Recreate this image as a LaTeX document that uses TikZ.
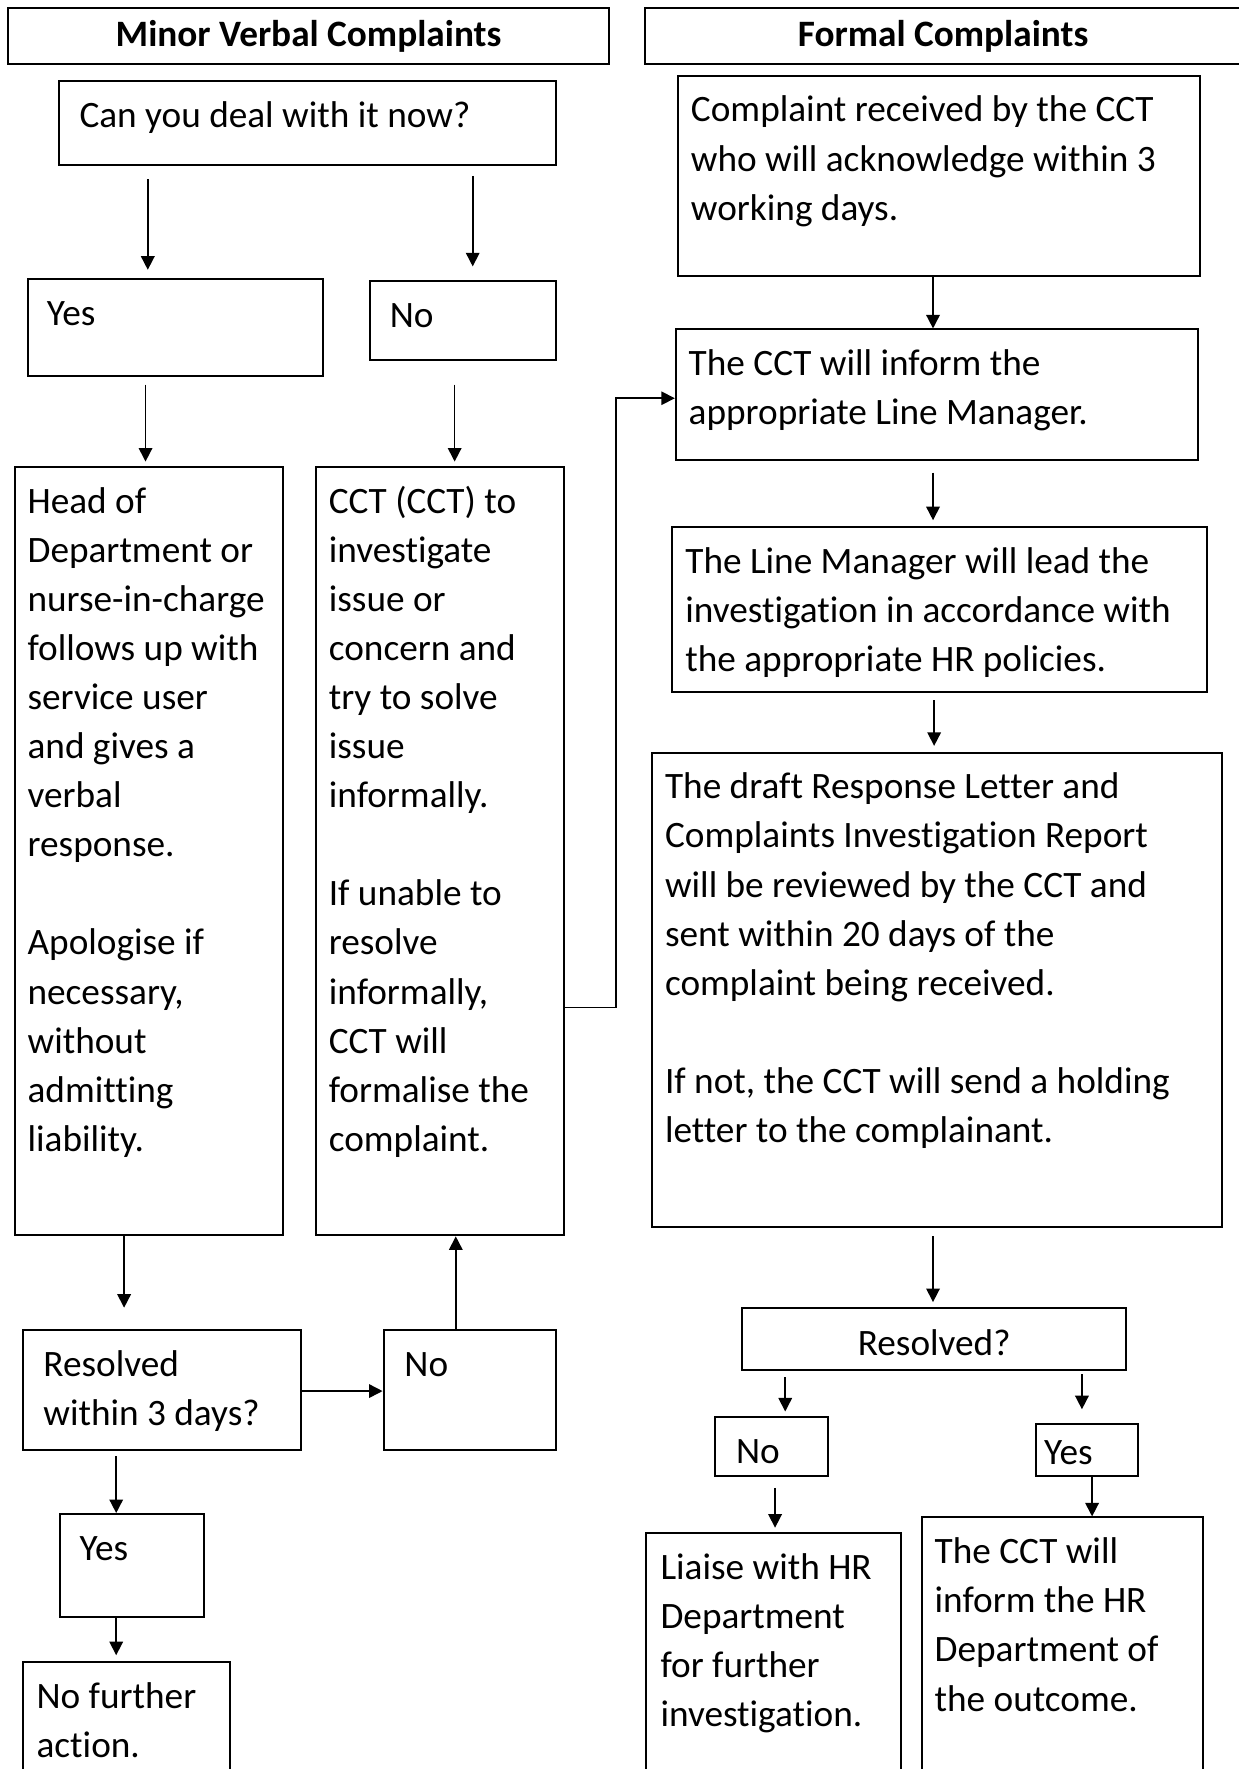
\documentclass[tikz,border=0pt]{standalone}
\usepackage{fontspec}
\setmainfont{Carlito}[Ligatures=NoCommon]
\usetikzlibrary{arrows.meta, positioning, fit}

\begin{document}
\begin{tikzpicture}[
  x=0.02cm, y=-0.02cm,
  box/.style={draw, line width=1pt, inner sep=0pt},
  txt/.style={anchor=base west, inner sep=0pt, text width=10cm, font=\fontsize{18.8}{24.75}\selectfont,
    execute at begin node={\spaceskip=0.226em\relax}},
  hdr/.style={inner sep=0pt, font=\bfseries\fontsize{18.8}{24.75}\selectfont},
  arr/.style={line width=0.8pt, -{Triangle[length=0.24cm, width=0.24cm]}}
]
\useasboundingbox (0,0) rectangle (1098,1568);

% Minor verbal complaints
\node[box, fit={(7,7) (540,57)}] (hdrA) {};
\node[hdr] (hdrAtxt) at (hdrA.center) {Minor Verbal Complaints};
\node[box, fit={(52,72) (493,146)}] (deal) {};
\node[txt] (dealtxt) at ([shift={(19,42)}]deal.north west) {Can you deal with it now?};
\node[box, fit={(25,247) (286,333)}] (yesA) {};
\node[txt] (yesAtxt) at ([shift={(17,42)}]yesA.north west) {Yes};
\node[box, fit={(328,249) (493,319)}] (noA) {};
\node[txt] (noAtxt) at ([shift={(18,42)}]noA.north west) {No};
\node[box, fit={(13,414) (251,1095)}] (head) {};
\node[txt] (headtxt) at ([shift={(12,42)}]head.north west) {Head of\\Department or\\nurse-in-charge\\follows up with\\service user\\and gives a\\verbal\\response.\\[24.75pt]Apologise if\\necessary,\\without\\admitting\\liability.};
\node[box, fit={(280,414) (500,1095)}] (cct) {};
\node[txt] (ccttxt) at ([shift={(12,42)}]cct.north west) {CCT (CCT) to\\investigate\\issue or\\concern and\\try to solve\\issue\\informally.\\[24.75pt]If unable to\\resolve\\informally,\\CCT will\\formalise the\\complaint.};
\node[box, fit={(20,1179) (267,1285)}] (res3) {};
\node[txt] (res3txt) at ([shift={(19,42)}]res3.north west) {Resolved\\within 3 days?};
\node[box, fit={(340,1179) (493,1285)}] (noB) {};
\node[txt] (noBtxt) at ([shift={(19,42)}]noB.north west) {No};
\node[box, fit={(53,1342) (181,1433)}] (yesB) {};
\node[txt] (yesBtxt) at ([shift={(18,42)}]yesB.north west) {Yes};
\node[box, fit={(20,1473) (204,1590)}] (nofurther) {};
\node[txt] (nofurthertxt) at ([shift={(13,42)}]nofurther.north west) {No further\\action.};

\draw[arr, shorten <=0.24cm, shorten >=0.14cm] (deal.south -| 131,0) -- (yesA.north -| 131,0);
\draw[arr, shorten <=0.18cm, shorten >=0.24cm] (deal.south -| 419,0) -- (noA.north -| 419,0);
\draw[arr, shorten <=0.14cm, shorten >=0.08cm] (yesA.south -| 129,0) -- (head.north -| 129,0);
\draw[arr, shorten <=0.42cm, shorten >=0.08cm] (noA.south -| 403,0) -- (cct.north -| 403,0);
\draw[arr, shorten >=0.38cm] (head.south -| 110,0) -- (res3.north -| 110,0);
\draw[arr] (res3.east |- 0,1233) -- (noB.west |- 0,1233);
\draw[arr] (noB.north -| 404,0) -- (cct.south -| 404,0);
\draw[arr, shorten <=0.1cm] (res3.south -| 103,0) -- (yesB.north -| 103,0);
\draw[arr, shorten >=0.1cm] (yesB.south -| 103,0) -- (nofurther.north -| 103,0);

% Formal complaints
\node[box, fit={(572,7) (1100,57)}] (hdrB) {};
\node[hdr] (hdrBtxt) at (hdrB.center -| 836,0) {Formal Complaints};
\node[box, fit={(601,67) (1064,245)}] (recv) {};
\node[txt] (recvtxt) at ([shift={(12,42)}]recv.north west) {Complaint received by the CCT\\who will acknowledge within 3\\working days.};
\node[box, fit={(599,292) (1062,408)}] (inform) {};
\node[txt] (informtxt) at ([shift={(12,42)}]inform.north west) {The CCT will inform the\\appropriate Line Manager.};
\node[box, fit={(596,467) (1070,613)}] (lead) {};
\node[txt] (leadtxt) at ([shift={(12,42)}]lead.north west) {The Line Manager will lead the\\investigation in accordance with\\the appropriate HR policies.};
\node[box, fit={(578,667) (1083,1088)}] (draft) {};
\node[txt] (drafttxt) at ([shift={(12,42)}]draft.north west) {The draft Response Letter and\\Complaints Investigation Report\\will be reviewed by the CCT and\\sent within 20 days of the\\complaint being received.\\[24.75pt]If not, the CCT will send a holding\\letter to the complainant.};
\node[box, fit={(658,1159) (998,1214)}] (resq) {};
\node[hdr, font=\fontsize{18.8}{24.75}\selectfont, anchor=base] (resqtxt) at ([yshift=-0.86cm]resq.north) {Resolved?};
\node[box, fit={(634,1256) (734,1308)}] (noC) {};
\node[txt] (noCtxt) at ([shift={(19,42)}]noC.north west) {No};
\node[box, fit={(918,1262) (1009,1308)}] (yesC) {};
\node[txt] (yesCtxt) at ([shift={(8,37)}]yesC.north west) {Yes};
\node[box, fit={(573,1359) (799,1590)}] (liaise) {};
\node[txt] (liaisetxt) at ([shift={(13,42)}]liaise.north west) {Liaise with HR\\Department\\for further\\investigation.};
\node[box, fit={(817,1345) (1066,1590)}] (hrout) {};
\node[txt] (hrouttxt) at ([shift={(12,42)}]hrout.north west) {The CCT will\\inform the HR\\Department of\\the outcome.};

\draw[arr] (cct.east |- 0,893) -- ++(45,0) |- (inform.west |- 0,353);
\draw[arr] (recv.south -| 827,0) -- (inform.north -| 827,0);
\draw[arr, shorten <=0.2cm, shorten >=0.1cm] (inform.south -| 827,0) -- (lead.north -| 827,0);
\draw[arr, shorten <=0.14cm, shorten >=0.1cm] (lead.south -| 828,0) -- (draft.north -| 828,0);
\draw[arr, shorten <=0.14cm, shorten >=0.08cm] (draft.south -| 827,0) -- (resq.north -| 827,0);
\draw[arr, shorten <=0.12cm, shorten >=0.08cm] (resq.south -| 696,0) -- (noC.north -| 696,0);
\draw[arr, shorten <=0.06cm, shorten >=0.24cm] (resq.south -| 959,0) -- (yesC.north -| 959,0);
\draw[arr, shorten <=0.2cm, shorten >=0.08cm] (noC.south -| 687,0) -- (liaise.north -| 687,0);
\draw[arr] (yesC.south -| 968,0) -- (hrout.north -| 968,0);
\end{tikzpicture}
\end{document}
